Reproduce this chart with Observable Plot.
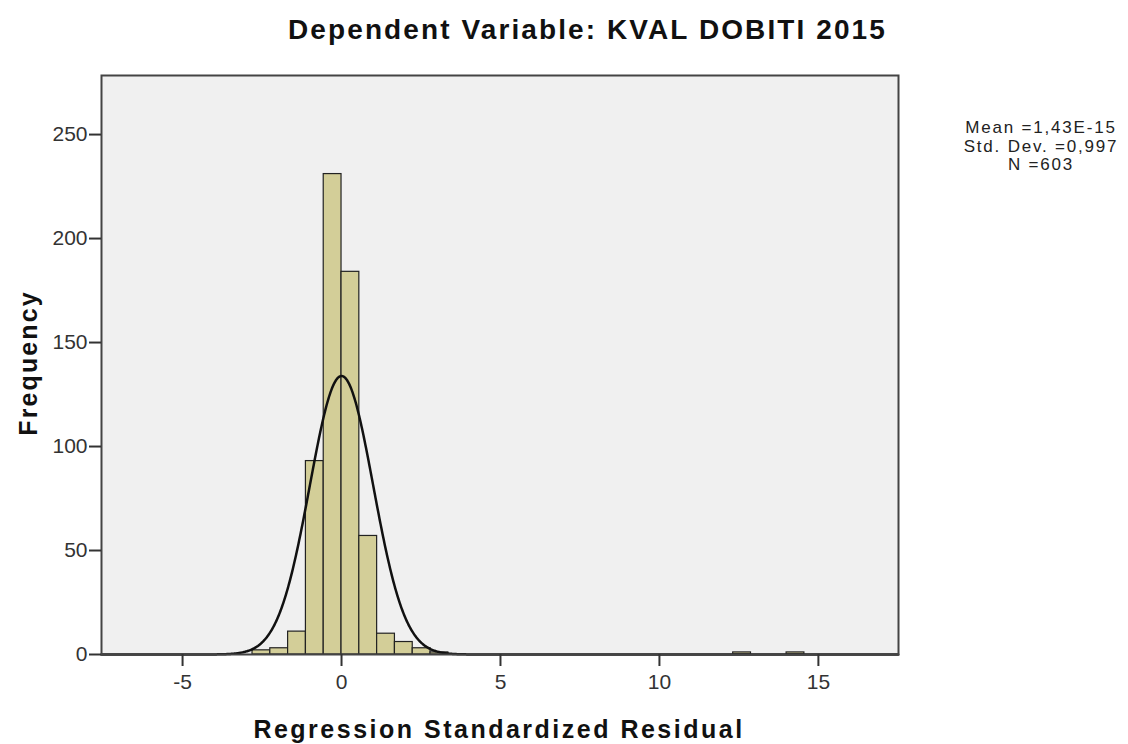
<!DOCTYPE html>
<html>
<head>
<meta charset="utf-8">
<script src="https://cdn.jsdelivr.net/npm/d3@7"></script>
<script src="https://cdn.jsdelivr.net/npm/@observablehq/plot@0.6"></script>
<style>
  html, body { margin: 0; padding: 0; background: #fff; }
  #wrap { position: relative; width: 1128px; height: 744px; overflow: hidden; font-family: "Liberation Sans", Arial, sans-serif; }
  #chart { position: absolute; left: 0; top: 0; }
  .title { position: absolute; left: 0; width: 1175px; top: 14px; text-align: center; font-weight: bold; font-size: 28px; letter-spacing: 2.1px; color: #111; }
  .xlabel { position: absolute; left: 0; width: 998px; top: 715px; text-align: center; font-weight: bold; font-size: 25px; letter-spacing: 2.5px; color: #111; }
  .ylabel { position: absolute; left: 28px; top: 363px; transform: translate(-50%, -50%) rotate(-90deg); white-space: nowrap; font-weight: bold; font-size: 25px; letter-spacing: 2.1px; color: #111; }
  .legend { position: absolute; left: 941px; width: 200px; top: 119px; text-align: center; font-size: 17px; letter-spacing: 1.8px; line-height: 18.5px; color: #222; }
  .legend div { height: 18.5px; line-height: 18.5px; }
</style>
</head>
<body>
<div id="wrap">
  <div id="chart"></div>
  <div class="title">Dependent Variable: KVAL DOBITI 2015</div>
  <div class="ylabel">Frequency</div>
  <div class="xlabel">Regression Standardized Residual</div>
  <div class="legend"><div>Mean =1,43E-15</div><div>Std. Dev. =0,997</div><div>N =603</div></div>
</div>
<script>
// Histogram bins (left edges) and frequencies
const binWidth = 0.56;
const binStart = [-2.80, -2.24, -1.68, -1.12, -0.56, 0.00, 0.56, 1.12, 1.68, 2.24, 2.80, 12.32, 14.00];
const frequency = [2, 3, 11, 93, 231, 184, 57, 10, 6, 3, 1, 1, 1];

// Fitted normal curve parameters (from legend)
const meanVal = 1.43e-15;
const stdDev = 0.997;
const nObs = 603;
const curveBinWidth = 0.555;

// Axis ticks
const xTicks = [-5, 0, 5, 10, 15];
const yTicks = [0, 50, 100, 150, 200, 250];
const xDomain = [-7.55, 17.52];
const yDomain = [0, 278.4];

const bars = binStart.map((b, i) => ({x1: b, x2: b + binWidth, y1: 0, y2: frequency[i]}));

const curve = d3.range(xDomain[0], xDomain[1] + 0.001, 0.02).map(x => ({
  x,
  y: nObs * curveBinWidth * Math.exp(-0.5 * ((x - meanVal) / stdDev) ** 2) / (stdDev * Math.sqrt(2 * Math.PI))
}));

const chart = Plot.plot({
  width: 1128,
  height: 744,
  marginLeft: 101,
  marginRight: 230,
  marginTop: 75,
  marginBottom: 90,
  x: {domain: xDomain},
  y: {domain: yDomain},
  style: {background: "transparent", fontFamily: "'Liberation Sans', Arial, sans-serif", fontSize: "21px", color: "#333"},
  marks: [
    Plot.frame({fill: "#f0f0f0", stroke: "none"}),
    Plot.rect(bars, {x1: "x1", x2: "x2", y1: "y1", y2: "y2", fill: "#d3ce98", stroke: "#222", strokeWidth: 1.2}),
    Plot.line(curve, {x: "x", y: "y", stroke: "#111", strokeWidth: 2.5}),
    Plot.frame({stroke: "#444", strokeWidth: 2}),
    Plot.axisY({ticks: yTicks, tickSize: 12, tickPadding: 2, label: null, stroke: "#333", strokeWidth: 2, tickFormat: d => String(d)}),
    Plot.axisX({ticks: xTicks, tickSize: 12, tickPadding: 8, label: null, stroke: "#333", strokeWidth: 2, tickFormat: d => d < 0 ? "-" + Math.abs(d) : String(d)})
  ]
});
document.getElementById("chart").appendChild(chart);
</script>
</body>
</html>
